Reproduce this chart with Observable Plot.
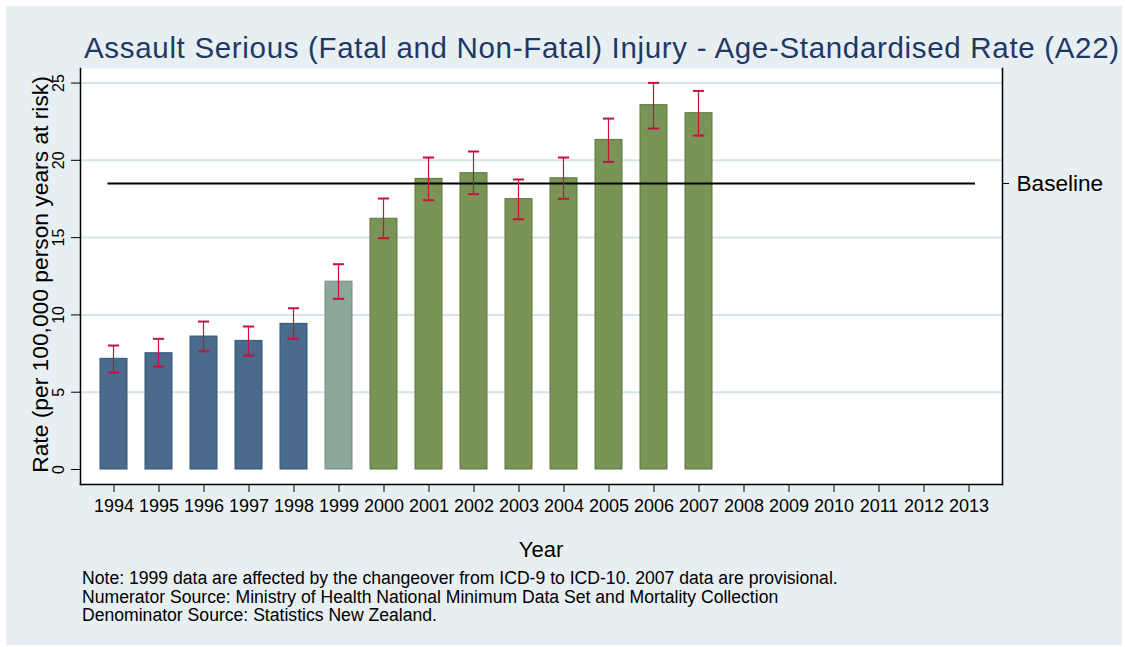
<!DOCTYPE html>
<html>
<head>
<meta charset="utf-8">
<script src="https://cdn.jsdelivr.net/npm/d3@7"></script>
<script src="https://cdn.jsdelivr.net/npm/@observablehq/plot@0.6"></script>
<style>
  html, body { margin: 0; padding: 0; background: #ffffff; }
  #page { position: relative; width: 1125px; height: 647px; background: #ffffff; font-family: "Liberation Sans", Arial, Helvetica, sans-serif; overflow: hidden; }
  #panel { position: absolute; left: 6px; top: 6px; width: 1116px; height: 639px; background: #e8eff2; }
  #title { position: absolute; left: 84px; top: 32.5px; font-size: 29.5px; letter-spacing: 0.68px; line-height: 1; color: #1f3864; white-space: nowrap; }
  #chart { position: absolute; left: 0; top: 60px; }
  #xlabel { position: absolute; left: 0; width: 1082px; text-align: center; top: 539px; font-size: 22px; line-height: 1; color: #000; }
  #notes { position: absolute; left: 82px; top: 569px; font-size: 17.6px; line-height: 18.7px; color: #000; white-space: nowrap; }
</style>
</head>
<body>
<div id="page">
  <div id="panel"></div>
  <div id="title"></div>
  <div id="chart"></div>
  <div id="xlabel"></div>
  <div id="notes"></div>
</div>
<script>
// ---- data ----
const titleText = "Assault Serious (Fatal and Non-Fatal) Injury - Age-Standardised Rate (A22)";
const yLabel = "Rate (per 100,000 person years at risk)";
const xLabel = "Year";
const noteLines = [
  "Note: 1999 data are affected by the changeover from ICD-9 to ICD-10. 2007 data are provisional.",
  "Numerator Source: Ministry of Health National Minimum Data Set and Mortality Collection",
  "Denominator Source: Statistics New Zealand."
];
const axisYears = [1994,1995,1996,1997,1998,1999,2000,2001,2002,2003,2004,2005,2006,2007,2008,2009,2010,2011,2012,2013];
const years  = [1994,1995,1996,1997,1998,1999,2000,2001,2002,2003,2004,2005,2006,2007];
const rates  = [7.16,7.52,8.60,8.32,9.42,12.15,16.22,18.80,19.17,17.49,18.84,21.32,23.57,23.05];
const lower  = [6.27,6.66,7.65,7.37,8.45,11.04,14.96,17.42,17.81,16.19,17.51,19.90,22.06,21.60];
const upper  = [8.02,8.45,9.57,9.25,10.43,13.28,17.53,20.18,20.57,18.76,20.18,22.70,25.01,24.49];
const period = ["ICD-9","ICD-9","ICD-9","ICD-9","ICD-9","Changeover","ICD-10","ICD-10","ICD-10","ICD-10","ICD-10","ICD-10","ICD-10","ICD-10"];
const baseline = 18.5;
const baselineLabel = "Baseline";
const yTicks = [0,5,10,15,20,25];
const gridTicks = [5,10,15,20,25];
const periods = ["ICD-9","Changeover","ICD-10"];
const fillColors = ["#4a6b8c","#8ca89b","#7a9457"];
const strokeColors = ["#2f5478","#728f84","#5c783c"];
const yDomain = [-0.97, 25.94];

// ---- table ----
const data = years.map((y, i) => ({year: y, rate: rates[i], lo: lower[i], hi: upper[i], period: period[i]}));
const strokeOf = p => strokeColors[periods.indexOf(p)];

document.getElementById("title").textContent = titleText;
document.getElementById("xlabel").textContent = xLabel;
document.getElementById("notes").innerHTML = noteLines.map(s => `<div>${s}</div>`).join("");

const chart = Plot.plot({
  width: 1125,
  height: 470,
  marginTop: 8,
  marginBottom: 46,
  marginLeft: 80,
  marginRight: 123,
  style: {fontFamily: "Liberation Sans, Arial, Helvetica, sans-serif", background: "transparent", color: "#000", overflow: "visible"},
  x: {type: "band", domain: axisYears, paddingInner: 0.39, paddingOuter: 0.3, label: null},
  y: {domain: yDomain, label: null},
  color: {domain: periods, range: fillColors},
  marks: [
    Plot.frame({fill: "white", stroke: null}),
    Plot.ruleY(gridTicks, {stroke: "#d6e3e9", strokeWidth: 2}),
    Plot.barY(data, {x: "year", y1: 0, y2: "rate", fill: "period", stroke: d => strokeOf(d.period), strokeWidth: 1}),
    Plot.ruleY([baseline], {stroke: "#000", strokeWidth: 2, insetLeft: 27.5, insetRight: 27}),
    Plot.barY(data, {x: "year", y1: "lo", y2: "hi", fill: "#c8103c", insetLeft: 12.9, insetRight: 12.9}),
    Plot.tickY(data, {x: "year", y: "hi", stroke: "#c8103c", strokeWidth: 2, insetLeft: 7.9, insetRight: 7.9}),
    Plot.tickY(data, {x: "year", y: "lo", stroke: "#c8103c", strokeWidth: 2, insetLeft: 7.9, insetRight: 7.9}),
    Plot.frame({anchor: "left", stroke: "#000", strokeWidth: 1.5}),
    Plot.frame({anchor: "bottom", stroke: "#000", strokeWidth: 1.5}),
    Plot.frame({anchor: "right", stroke: "#000", strokeWidth: 1.5}),
    Plot.axisX({ticks: axisYears, tickSize: 8, tickPadding: 7, fontSize: 18, tickFormat: d => String(d), label: null}),
    Plot.axisY({ticks: yTicks, tickSize: 9, tickFormat: () => "", label: null}),
    Plot.text(yTicks, {y: d => d, text: d => String(d), frameAnchor: "left", dx: -17, rotate: -90, fontSize: 16, textAnchor: "middle", lineAnchor: "bottom"}),
    Plot.axisY({anchor: "right", ticks: [baseline], tickSize: 6, tickPadding: 8, fontSize: 22.6, tickFormat: () => baselineLabel, label: null}),
    Plot.text([yLabel], {frameAnchor: "left", dx: -33, dy: -2, rotate: -90, fontSize: 22.8, textAnchor: "middle", lineAnchor: "bottom"})
  ]
});
document.getElementById("chart").appendChild(chart);
</script>
</body>
</html>
